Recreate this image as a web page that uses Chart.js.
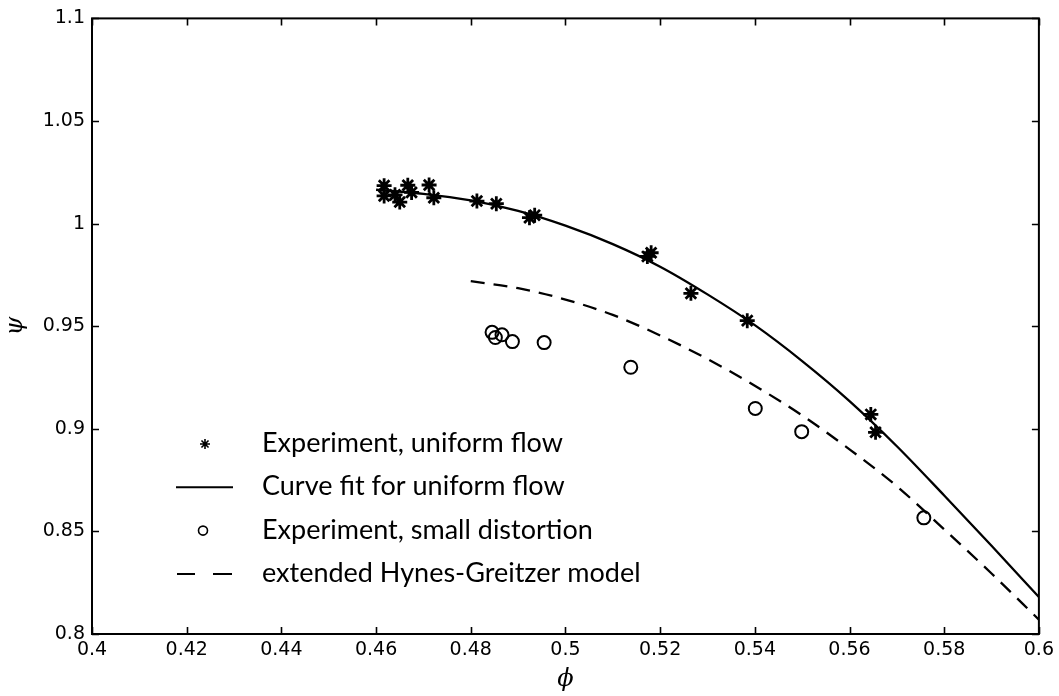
<!DOCTYPE html>
<html>
<head>
<meta charset="utf-8">
<script src="https://cdn.jsdelivr.net/npm/chart.js@4.4.1/dist/chart.umd.min.js"></script>
<style>
  html, body { margin: 0; padding: 0; background: #fff; }
  canvas { display: block; }
</style>
</head>
<body>
<canvas id="c" width="1059" height="696"></canvas>
<script>
// Axis tick values
const xTicks = [0.4, 0.42, 0.44, 0.46, 0.48, 0.5, 0.52, 0.54, 0.56, 0.58, 0.6];
const yTicks = [0.8, 0.85, 0.9, 0.95, 1, 1.05, 1.1];

// Experiment, uniform flow (stars)
const starPhi = [0.4617, 0.4617, 0.4640, 0.4650, 0.4667, 0.4675, 0.4712, 0.4722,
                 0.4813, 0.4854, 0.4924, 0.4935, 0.5173, 0.5181, 0.5265, 0.5384,
                 0.5645, 0.5655];
const starPsi = [1.0185, 1.0135, 1.0140, 1.0105, 1.0187, 1.0152, 1.0188, 1.0126,
                 1.0110, 1.0097, 1.0029, 1.0041, 0.9840, 0.9858, 0.9660, 0.9527,
                 0.9070, 0.8983];

// Experiment, small distortion (circles)
const circlePhi = [0.4845, 0.4852, 0.4866, 0.4888, 0.4955, 0.5138, 0.5401, 0.5499, 0.5757];
const circlePsi = [0.9470, 0.9445, 0.9458, 0.9425, 0.9420, 0.9300, 0.9099, 0.8986, 0.8566];

// Curve fit for uniform flow
const fitPhi = [0.46, 0.47, 0.48, 0.49, 0.50, 0.51, 0.52, 0.53, 0.54, 0.55, 0.56, 0.57, 0.58, 0.59, 0.60];
const fitPsi = [1.0165, 1.0145, 1.0113, 1.0062, 0.9990, 0.9900, 0.9790, 0.9655, 0.9505,
                0.9330, 0.9135, 0.8915, 0.8675, 0.8430, 0.8180];

// Extended Hynes-Greitzer model
const hgPhi = [0.48, 0.49, 0.50, 0.51, 0.52, 0.53, 0.54, 0.55, 0.56, 0.57, 0.58, 0.59, 0.60];
const hgPsi = [0.9720, 0.9685, 0.9630, 0.9555, 0.9455, 0.9340, 0.9210, 0.9065, 0.8900,
               0.8720, 0.8510, 0.8295, 0.8070];

const legendLabels = [
  'Experiment, uniform flow',
  'Curve fit for uniform flow',
  'Experiment, small distortion',
  'extended Hynes-Greitzer model'
];

const toPoints = (xs, ys) => xs.map((x, i) => ({ x: x, y: ys[i] }));

// Box around the plot area with inward tick marks on all four sides
const framePlugin = {
  id: 'frame',
  afterDraw(chart) {
    const { ctx, chartArea: a, scales: { x, y } } = chart;
    const L = 7;
    ctx.save();
    ctx.strokeStyle = '#000';
    ctx.lineWidth = 2;
    ctx.strokeRect(a.left, a.top, a.right - a.left, a.bottom - a.top);
    ctx.lineWidth = 1.6;
    ctx.beginPath();
    xTicks.forEach(v => {
      const px = Math.round(x.getPixelForValue(v)) + 0.5;
      ctx.moveTo(px, a.bottom); ctx.lineTo(px, a.bottom - L);
      ctx.moveTo(px, a.top); ctx.lineTo(px, a.top + L);
    });
    yTicks.forEach(v => {
      const py = Math.round(y.getPixelForValue(v)) + 0.5;
      ctx.moveTo(a.left, py); ctx.lineTo(a.left + L, py);
      ctx.moveTo(a.right, py); ctx.lineTo(a.right - L, py);
    });
    ctx.stroke();
    ctx.restore();
  }
};

// Legend drawn inside the lower-left of the plot area
const legendPlugin = {
  id: 'innerLegend',
  afterDraw(chart) {
    const ctx = chart.ctx;
    const symX = 205, textX = 262, base0 = 452, step = 43.3;
    ctx.save();
    ctx.fillStyle = '#000';
    ctx.strokeStyle = '#000';
    ctx.font = '27px Lato';
    ctx.textBaseline = 'alphabetic';
    ctx.textAlign = 'left';
    legendLabels.forEach((label, i) => {
      const base = base0 + step * i;
      const sy = base - 8;
      ctx.fillText(label, textX, base);
      ctx.beginPath();
      if (i === 0) {
        ctx.lineWidth = 1.6;
        const r = 5;
        for (let k = 0; k < 4; k++) {
          const ang = k * Math.PI / 4;
          ctx.moveTo(symX - r * Math.cos(ang), sy - r * Math.sin(ang));
          ctx.lineTo(symX + r * Math.cos(ang), sy + r * Math.sin(ang));
        }
        ctx.stroke();
      } else if (i === 1) {
        ctx.lineWidth = 2;
        ctx.moveTo(176, sy); ctx.lineTo(233, sy);
        ctx.stroke();
      } else if (i === 2) {
        ctx.lineWidth = 1.6;
        ctx.arc(symX - 2, sy, 4.5, 0, Math.PI * 2);
        ctx.stroke();
      } else {
        ctx.lineWidth = 2;
        ctx.moveTo(177, sy); ctx.lineTo(195, sy);
        ctx.moveTo(213, sy); ctx.lineTo(232, sy);
        ctx.stroke();
      }
    });
    ctx.restore();
  }
};

const tickFont = { family: 'DejaVu Sans', size: 19 };

new Chart(document.getElementById('c'), {
  type: 'scatter',
  data: {
    datasets: [
      {
        label: legendLabels[1],
        data: toPoints(fitPhi, fitPsi),
        showLine: true,
        borderColor: '#000',
        borderWidth: 2.3,
        pointRadius: 0,
        cubicInterpolationMode: 'monotone',
        fill: false
      },
      {
        label: legendLabels[3],
        data: toPoints(hgPhi, hgPsi),
        showLine: true,
        borderColor: '#000',
        borderWidth: 2.3,
        borderDash: [14, 9],
        pointRadius: 0,
        cubicInterpolationMode: 'monotone',
        fill: false
      },
      {
        label: legendLabels[0],
        data: toPoints(starPhi, starPsi),
        showLine: false,
        pointStyle: 'star',
        pointRadius: 7.5,
        pointBorderWidth: 2.8,
        pointBorderColor: '#000',
        pointBackgroundColor: '#000'
      },
      {
        label: legendLabels[2],
        data: toPoints(circlePhi, circlePsi),
        showLine: false,
        pointStyle: 'circle',
        pointRadius: 6.5,
        pointBorderWidth: 2,
        pointBorderColor: '#000',
        pointBackgroundColor: 'rgba(0,0,0,0)'
      }
    ]
  },
  options: {
    responsive: false,
    devicePixelRatio: 1,
    animation: false,
    events: [],
    layout: { padding: { top: 17, right: 19, left: 0, bottom: 0 } },
    plugins: { legend: { display: false }, tooltip: { enabled: false } },
    scales: {
      x: {
        type: 'linear',
        min: 0.4, max: 0.6,
        afterBuildTicks: s => { s.ticks = xTicks.map(v => ({ value: v })); },
        afterFit: s => { s.height = 62; },
        grid: { display: false, drawTicks: false },
        border: { display: false },
        ticks: { autoSkip: false, maxRotation: 0, padding: 5, color: '#000', font: tickFont,
                 callback: v => String(v) },
        title: { display: true, text: '\u03D5', color: '#000',
                 font: { family: 'DejaVu Serif', size: 24, style: 'italic' },
                 padding: { top: 0, bottom: 2 } }
      },
      y: {
        type: 'linear',
        min: 0.8, max: 1.1,
        afterBuildTicks: s => { s.ticks = yTicks.map(v => ({ value: v })); },
        afterFit: s => { s.width = 92; },
        grid: { display: false, drawTicks: false },
        border: { display: false },
        ticks: { autoSkip: false, padding: 7, color: '#000', font: tickFont,
                 callback: v => String(v) },
        title: { display: true, text: '\u03C8', color: '#000',
                 font: { family: 'DejaVu Serif', size: 24, style: 'italic' },
                 padding: { top: 1, bottom: 0 } }
      }
    }
  },
  plugins: [framePlugin, legendPlugin]
});
</script>
</body>
</html>
